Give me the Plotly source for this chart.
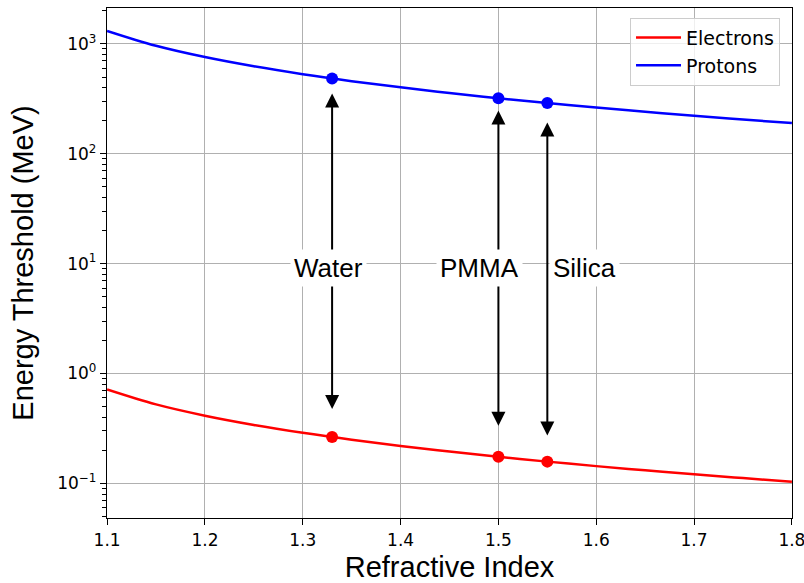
import math
import plotly.graph_objects as go

# ---- data ----
refractive_index = [1.10, 1.15, 1.20, 1.25, 1.30, 1.35, 1.40, 1.45, 1.50, 1.55, 1.60, 1.65, 1.70, 1.75, 1.80]
electron_threshold = [0.7156, 0.5238, 0.4134, 0.3407, 0.2887, 0.2497, 0.2192, 0.1947, 0.1746, 0.1578, 0.1436, 0.1314, 0.1209, 0.1117, 0.1036]
proton_threshold = [1314.0, 961.7, 759.1, 625.5, 530.1, 458.4, 402.4, 357.5, 320.5, 289.8, 263.7, 241.3, 222.0, 205.0, 190.2]

material_names = ["Water", "PMMA", "Silica"]
material_n = [1.33, 1.50, 1.55]
material_electron = [0.264, 0.1746, 0.1578]
material_proton = [484.8, 320.5, 289.8]

arrow_top = [353.0, 248.0, 193.0]
arrow_bottom = [0.46, 0.325, 0.264]
label_x = [1.326, 1.481, 1.588]
label_y = 9.2

x_ticks = [1.1, 1.2, 1.3, 1.4, 1.5, 1.6, 1.7, 1.8]
y_tick_exponents = [-1, 0, 1, 2, 3]

# ---- figure ----
fig = go.Figure()
fig.add_trace(go.Scatter(x=refractive_index, y=electron_threshold, mode="lines",
                         line=dict(color="red", width=2.5, shape="spline"), name="Electrons"))
fig.add_trace(go.Scatter(x=refractive_index, y=proton_threshold, mode="lines",
                         line=dict(color="blue", width=2.5, shape="spline"), name="Protons"))
fig.add_trace(go.Scatter(x=material_n, y=material_electron, mode="markers",
                         marker=dict(color="red", size=12), showlegend=False))
fig.add_trace(go.Scatter(x=material_n, y=material_proton, mode="markers",
                         marker=dict(color="blue", size=12), showlegend=False))

annotations = []
for n, top, bot in zip(material_n, arrow_top, arrow_bottom):
    annotations.append(dict(
        x=n, y=math.log10(top), ax=n, ay=math.log10(bot),
        xref="x", yref="y", axref="x", ayref="y", text="",
        showarrow=True, arrowhead=2, arrowsize=1.4, arrowwidth=2,
        startarrowhead=2, startarrowsize=1.4, arrowside="end+start",
        arrowcolor="black", standoff=0, startstandoff=0))
for name, lx in zip(material_names, label_x):
    annotations.append(dict(
        x=lx, y=math.log10(label_y), xref="x", yref="y", text=name,
        showarrow=False, bgcolor="white", borderpad=3,
        font=dict(family="Liberation Sans", size=26, color="black")))

minor_vals = [m * 10 ** e for e in range(-2, 4) for m in range(2, 10)]

fig.update_layout(
    width=804, height=583,
    margin=dict(l=107, r=12, t=8, b=65),
    paper_bgcolor="white", plot_bgcolor="white",
    annotations=annotations,
    legend=dict(x=0.9825, y=0.981, xanchor="right", yanchor="top", itemwidth=45,
                bgcolor="rgba(255,255,255,0.8)", bordercolor="#cccccc", borderwidth=1,
                font=dict(family="DejaVu Sans", size=19, color="black")),
    xaxis=dict(
        range=[1.0999, 1.8001], tickvals=x_ticks, ticktext=[f"{v:.1f}" for v in x_ticks],
        showgrid=True, gridcolor="#b0b0b0", gridwidth=1.2,
        showline=True, linecolor="black", linewidth=1.3, mirror=True,
        ticks="outside", ticklen=6, tickcolor="black", ticklabeloverflow="allow",
        tickfont=dict(family="DejaVu Sans", size=17, color="black"),
        title=dict(text="Refractive Index",
                   font=dict(family="Liberation Sans", size=29, color="black")),
        automargin=False, zeroline=False),
    yaxis=dict(
        type="log", range=[-1.315, 3.327],
        tickvals=[10 ** e for e in y_tick_exponents],
        ticktext=[f"10<sup>{'−' if e < 0 else ''}{abs(e)}</sup>" for e in y_tick_exponents],
        showgrid=True, gridcolor="#b0b0b0", gridwidth=1.2,
        showline=True, linecolor="black", linewidth=1.3, mirror=True,
        ticks="outside", ticklen=6, tickcolor="black", ticklabeloverflow="allow",
        tickfont=dict(family="DejaVu Sans", size=17, color="black"),
        minor=dict(tickvals=minor_vals, ticks="outside", ticklen=3.5, tickcolor="black", showgrid=False),
        title=dict(text="Energy Threshold (MeV)",
                   font=dict(family="Liberation Sans", size=29, color="black")),
        automargin=False, zeroline=False),
)

fig.write_html("out.html", config={"displayModeBar": False},
               post_script="document.body.style.margin='0';document.body.style.overflow='hidden';")
